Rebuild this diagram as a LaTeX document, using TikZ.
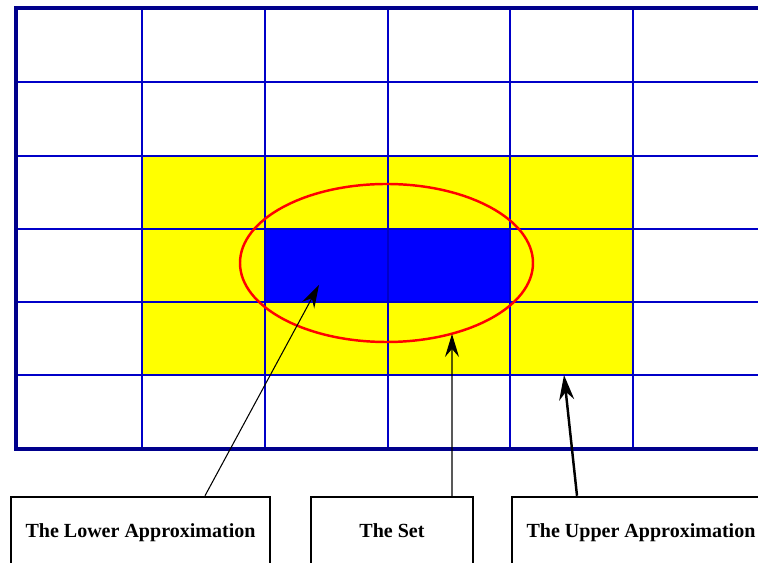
\documentclass[tikz,border=0pt]{standalone}
\usepackage{fontspec}
\setmainfont{Liberation Serif}
\usetikzlibrary{arrows.meta}

\definecolor{gridnavy}{RGB}{0,0,140}
\definecolor{gridblue}{RGB}{0,0,200}
\definecolor{upperfill}{RGB}{255,255,0}
\definecolor{lowerfill}{RGB}{0,0,255}

\begin{document}
\begin{tikzpicture}[x=0.02cm, y=-0.02cm,
  labelbox/.style={draw, line width=1.4pt, minimum height=1.4cm, inner sep=0pt,
    text height=1.5ex, text depth=0.2ex,
    font=\fontsize{11.4}{13}\selectfont\bfseries},
  pointer/.style={-{Stealth[length=0.46cm, width=0.28cm, inset=0.16cm]}, line width=0.6pt},
  bigpointer/.style={-{Stealth[length=0.5cm, width=0.3cm, inset=0.16cm]}, line width=1.4pt}]
  \useasboundingbox (0,0) rectangle (758,563);
  \clip (0,0) rectangle (758,563);

  % upper and lower approximation
  \fill[upperfill] (142,156) rectangle (633,375);
  \fill[lowerfill] (265,229) rectangle (510,302);

  % grid
  \foreach \x in {142,265,388,510,633}
    \draw[gridblue, line width=1.4pt] (\x,8) -- (\x,447);
  \foreach \y in {82,156,229,302,375}
    \draw[gridblue, line width=1.4pt] (18,\y) -- (770,\y);
  \draw[gridnavy, line width=2.6pt] (770,8) -- (16,8) -- (16,449) -- (770,449);

  % the set
  \draw[red, line width=1.4pt] (386.5,263) ellipse [x radius=146.5, y radius=79];

  \coordinate (lowtip) at (319,285);
  \coordinate (settip) at (452,334);
  \coordinate (uptip) at (564,375);

  \node[labelbox, minimum width=5.18cm] (lower) at (140.5,532) {The Lower Approximation};
  \node[labelbox, minimum width=3.24cm] (set) at (392,532) {The Set};
  \node[labelbox, minimum width=5.16cm] (upper) at (641,532) {The Upper Approximation};

  \draw[pointer] ([xshift=1.29cm]lower.north) -- (lowtip);
  \draw[pointer] ([xshift=1.2cm]set.north) -- (settip);
  \draw[bigpointer] ([xshift=-1.28cm]upper.north) -- (uptip);
\end{tikzpicture}
\end{document}
